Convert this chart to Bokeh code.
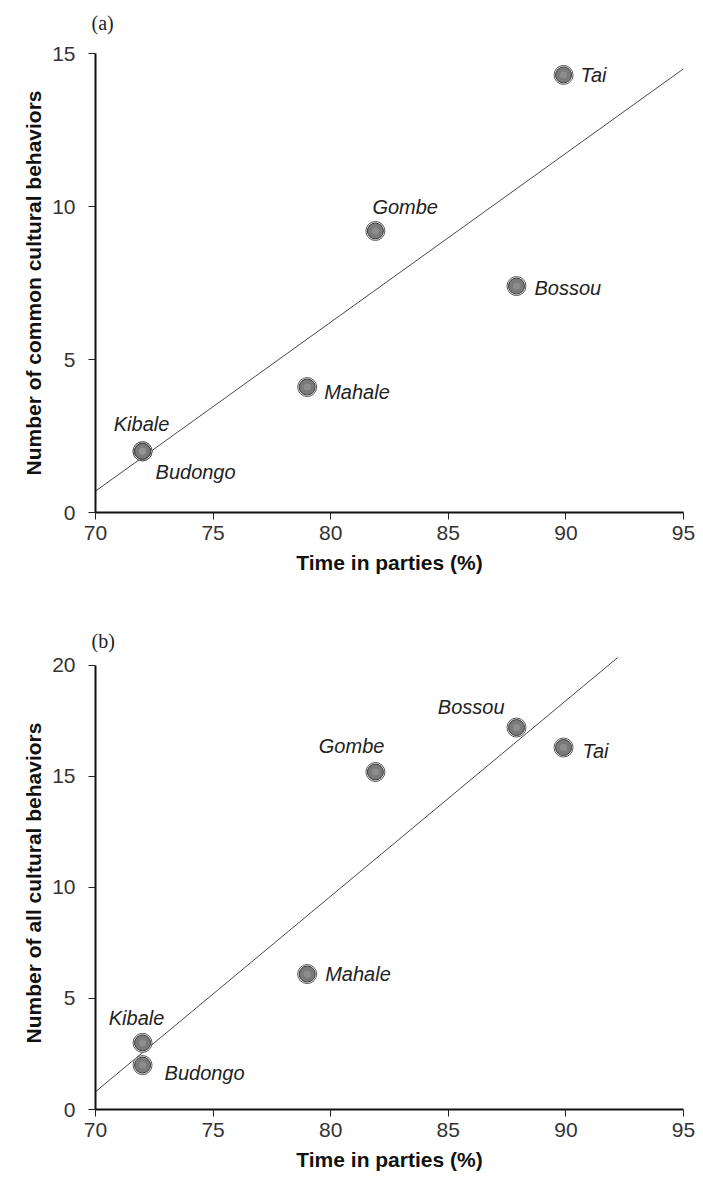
from bokeh.plotting import figure
from bokeh.models import ColumnDataSource, Range1d, Title
from bokeh.layouts import column
from bokeh.embed import file_html
from bokeh.resources import INLINE
from bokeh.core.properties import value

# ---------------- data ----------------
sites = ["Kibale", "Budongo", "Mahale", "Gombe", "Bossou", "Tai"]
party_time = [72.0, 72.0, 79.0, 81.9, 87.9, 89.9]
common_behaviors = [2.0, 2.0, 4.1, 9.2, 7.4, 14.3]
all_behaviors = [3.0, 2.0, 6.1, 15.2, 17.2, 16.3]

fit_a_x = [70, 95]
fit_a_y = [0.7, 14.5]
fit_b_x = [70, 92.2]
fit_b_y = [0.8, 20.35]

x_ticks = [70, 75, 80, 85, 90, 95]
y_ticks_a = [0, 5, 10, 15]
y_ticks_b = [0, 5, 10, 15, 20]

# ---------------- label layout (pixels) ----------------
layout_a = {  # (align, dx, dy)
    "Kibale": ("center", -1, -27),
    "Budongo": ("left", 13, 21),
    "Mahale": ("left", 17, 5),
    "Gombe": ("left", -3, -24),
    "Bossou": ("left", 18, 2),
    "Tai": ("left", 17, 0),
}
layout_b = {
    "Kibale": ("center", -6, -25),
    "Budongo": ("left", 22, 8),
    "Mahale": ("left", 18, 0),
    "Gombe": ("right", 9, -26),
    "Bossou": ("right", -12, -21),
    "Tai": ("left", 19, 3),
}

SANS = "Liberation Sans"


def make_panel(ys, fit_x, fit_y, y_ticks, y_end, y_bound, ylabel, tag, layout,
               height, b_left, b_right, b_top, b_bottom, spacer_size):
    p = figure(width=703, height=height, output_backend="svg", toolbar_location=None,
               title=tag,
               x_range=Range1d(70, 95), y_range=Range1d(0, y_end),
               min_border_left=b_left, min_border_right=b_right,
               min_border_top=b_top, min_border_bottom=b_bottom)
    p.outline_line_color = None
    p.grid.visible = False
    p.background_fill_color = "white"
    p.border_fill_color = "white"

    p.title.text_font = "Liberation Serif"
    p.title.text_font_style = "normal"
    p.title.text_font_size = "20px"
    p.title.text_color = "#222222"
    p.title.align = "left"
    p.title.offset = -4
    if spacer_size:
        # invisible spacer between the panel tag and the frame
        p.add_layout(Title(text="\u00a0", text_font_size=spacer_size), "above")

    for ax in (p.xaxis[0], p.yaxis[0]):
        ax.axis_line_width = 2
        ax.axis_line_color = "#111111"
        ax.major_tick_line_color = "#222222"
        ax.major_tick_line_width = 1
        ax.major_tick_out = 7
        ax.major_tick_in = 0
        ax.minor_tick_line_color = None
        ax.major_label_text_font = SANS
        ax.major_label_text_font_size = "21px"
        ax.major_label_text_color = "#333333"
        ax.axis_label_text_font = SANS
        ax.axis_label_text_font_style = "bold"
        ax.axis_label_text_font_size = "21px"
        ax.axis_label_text_color = "#111111"

    p.xaxis.ticker = x_ticks
    p.yaxis.ticker = y_ticks
    p.yaxis.bounds = (0, y_bound)
    p.xaxis.axis_label = "Time in parties (%)"
    p.yaxis.axis_label = ylabel
    p.xaxis.major_label_standoff = 6
    p.yaxis.major_label_standoff = 13
    p.xaxis.axis_label_standoff = 8
    p.yaxis.axis_label_standoff = 4

    p.line(fit_x, fit_y, line_color="#333333", line_width=0.9)

    src = ColumnDataSource(dict(
        x=party_time, y=ys, name=sites,
        align=[layout[s][0] for s in sites],
        dx=[layout[s][1] for s in sites],
        dy=[layout[s][2] for s in sites],
    ))
    p.scatter("x", "y", source=src, size=19, fill_color="white",
              line_color="#444444", line_width=0.9)
    p.scatter("x", "y", source=src, size=16, fill_color="#7a7a7a",
              line_color="#3a3a3a", line_width=1)
    p.scatter("x", "y", source=src, size=7, fill_color="#9a9a9a",
              line_color=None, fill_alpha=0.6)

    p.text("x", "y", text="name", source=src, x_offset="dx", y_offset="dy",
           text_align="align", text_baseline="middle",
           text_font=value(SANS), text_font_style="italic",
           text_font_size="20px", text_color="#222222")
    return p


pa = make_panel(common_behaviors, fit_a_x, fit_a_y, y_ticks_a, 15, 15,
                "Number of common cultural behaviors", "(a)", layout_a,
                height=590, b_left=85, b_right=20, b_top=53, b_bottom=78,
                spacer_size="3px")
pb = make_panel(all_behaviors, fit_b_x, fit_b_y, y_ticks_b, 20.4, 20,
                "Number of all cultural behaviors", "(b)", layout_b,
                height=591, b_left=95, b_right=17, b_top=66, b_bottom=72,
                spacer_size=None)

layout = column(pa, pb)
open("out.html", "w").write(file_html(layout, INLINE))
